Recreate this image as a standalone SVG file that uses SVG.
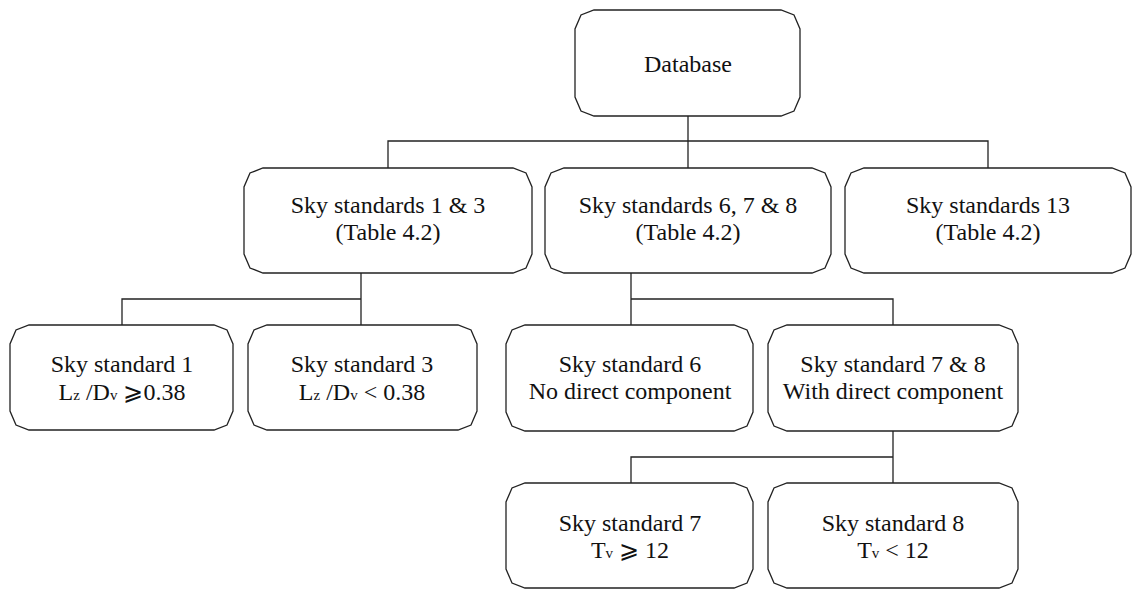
<svg xmlns="http://www.w3.org/2000/svg" width="1132" height="590" viewBox="0 0 1132 590">
<style>
.box{fill:#fff;stroke:#222;stroke-width:1.3}
.con{fill:none;stroke:#222;stroke-width:1.3}
text{font-family:"Liberation Serif","Times New Roman","DejaVu Serif",serif;font-size:24px;fill:#111;text-anchor:middle}
.s{font-size:15px}
</style>
<rect width="1132" height="590" fill="#fff"/>
<g id="connectors">
<path class="con" d="M688,116 V168 M388,168 V141 H988 V168"/>
<path class="con" d="M361,273 V325 M122,325 V299 H361"/>
<path class="con" d="M631,273 V325 M631,299 H893 V325"/>
<path class="con" d="M893,431 V483 M631,483 V457 H893"/>
</g>
<g id="database">
<path class="box" d="M594,10 H781 L794,15 L800,29 V97 L794,111 L781,116 H594 L581,111 L575,97 V29 L581,15 Z"/>
<text x="688" y="72">Database</text>
</g>
<g id="sky13">
<path class="box" d="M263,168 H513 L526,173 L532,187 V254 L526,268 L513,273 H263 L250,268 L244,254 V187 L250,173 Z"/>
<text x="388" y="213">Sky standards 1 &amp; 3</text>
<text x="388" y="240">(Table 4.2)</text>
</g>
<g id="sky678">
<path class="box" d="M564,168 H812 L825,173 L831,187 V254 L825,268 L812,273 H564 L551,268 L545,254 V187 L551,173 Z"/>
<text x="688" y="213">Sky standards 6, 7 &amp; 8</text>
<text x="688" y="240">(Table 4.2)</text>
</g>
<g id="sky13b">
<path class="box" d="M864,168 H1112 L1125,173 L1131,187 V254 L1125,268 L1112,273 H864 L851,268 L845,254 V187 L851,173 Z"/>
<text x="988" y="213">Sky standards 13</text>
<text x="988" y="240">(Table 4.2)</text>
</g>
<g id="sky1">
<path class="box" d="M29,325 H214 L227,330 L233,344 V411 L227,425 L214,430 H29 L16,425 L10,411 V344 L16,330 Z"/>
<text x="122" y="372">Sky standard 1</text>
<text x="122" y="400">L<tspan class="s">z</tspan> /D<tspan class="s">v</tspan> ⩾0.38</text>
</g>
<g id="sky3">
<path class="box" d="M267,325 H458 L471,330 L477,344 V411 L471,425 L458,430 H267 L254,425 L248,411 V344 L254,330 Z"/>
<text x="362" y="372">Sky standard 3</text>
<text x="362" y="400">L<tspan class="s">z</tspan> /D<tspan class="s">v</tspan> &lt; 0.38</text>
</g>
<g id="sky6">
<path class="box" d="M525,325 H734 L747,330 L753,344 V412 L747,426 L734,431 H525 L512,426 L506,412 V344 L512,330 Z"/>
<text x="630" y="372">Sky standard 6</text>
<text x="630" y="399">No direct component</text>
</g>
<g id="sky78">
<path class="box" d="M787,325 H999 L1012,330 L1018,344 V412 L1012,426 L999,431 H787 L774,426 L768,412 V344 L774,330 Z"/>
<text x="893" y="372">Sky standard 7 &amp; 8</text>
<text x="893" y="399">With direct component</text>
</g>
<g id="sky7">
<path class="box" d="M525,483 H734 L747,488 L753,502 V569 L747,583 L734,588 H525 L512,583 L506,569 V502 L512,488 Z"/>
<text x="630" y="531">Sky standard 7</text>
<text x="630" y="558">T<tspan class="s">v</tspan> ⩾ 12</text>
</g>
<g id="sky8">
<path class="box" d="M787,483 H999 L1012,488 L1018,502 V569 L1012,583 L999,588 H787 L774,583 L768,569 V502 L774,488 Z"/>
<text x="893" y="531">Sky standard 8</text>
<text x="893" y="558">T<tspan class="s">v</tspan> &lt; 12</text>
</g>
</svg>
